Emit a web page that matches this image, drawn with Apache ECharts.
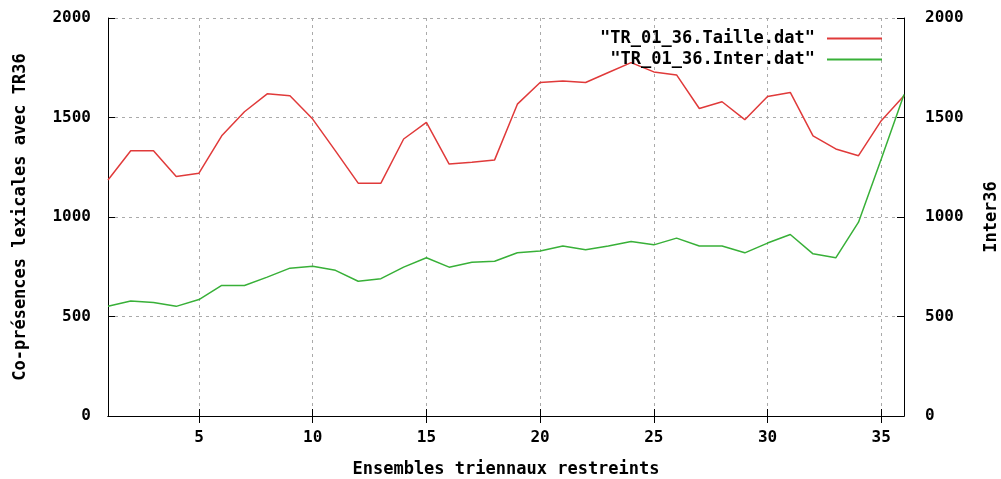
<!DOCTYPE html>
<html>
<head>
<meta charset="utf-8">
<script src="https://cdn.jsdelivr.net/npm/echarts@6/dist/echarts.min.js"></script>
<style>
  html, body { margin: 0; padding: 0; background: #ffffff; }
  #chart { width: 1001px; height: 479px; }
</style>
</head>
<body>
<div id="chart"></div>
<script>
  // ensembles triennaux 1..36
  var ensembles = ['1','2','3','4','5','6','7','8','9','10','11','12','13','14','15','16','17','18',
    '19','20','21','22','23','24','25','26','27','28','29','30','31','32','33','34','35','36'];
  var taille = [1186, 1333, 1333, 1203, 1220, 1408, 1529, 1619, 1609, 1492, 1332, 1170, 1170, 1392, 1475, 1266, 1275, 1287,
    1567, 1676, 1684, 1676, 1726, 1776, 1729, 1714, 1545, 1579, 1489, 1606, 1626, 1408, 1342, 1308, 1484, 1609];
  var inter = [551, 578, 570, 551, 585, 656, 656, 698, 743, 753, 732, 677, 690, 748, 795, 748, 773, 778,
    820, 829, 854, 835, 854, 877, 860, 894, 854, 854, 820, 869, 912, 815, 795, 974, 1292, 1615];
  var nomTaille = '"TR_01_36.Taille.dat"';
  var nomInter = '"TR_01_36.Inter.dat"';

  var police = 'DejaVu Sans Mono';
  var texte = { fontFamily: police, fontWeight: 'bold', fontSize: 16, color: '#000' };
  var titre = { fontFamily: police, fontWeight: 'bold', fontSize: 17, color: '#000' };
  var tousLes5 = function (idx, val) { return Number(val) % 5 === 0; };
  var brut = function (v) { return String(v); };

  var chart = echarts.init(document.getElementById('chart'));
  chart.setOption({
    animation: false,
    backgroundColor: '#ffffff',
    grid: { left: 108, right: 97, top: 18, bottom: 63, outerBoundsMode: 'none', containLabel: false },
    legend: [
      {
        data: [nomTaille], right: 114, top: 25, align: 'right',
        icon: 'rect', itemWidth: 55, itemHeight: 2,
        textStyle: Object.assign({ padding: [0, 7, 0, 0] }, titre)
      },
      {
        data: [nomInter], right: 114, top: 46, align: 'right',
        icon: 'rect', itemWidth: 55, itemHeight: 2,
        textStyle: Object.assign({ padding: [0, 7, 0, 0] }, titre)
      }
    ],
    xAxis: [
      {
        type: 'category', data: ensembles, boundaryGap: false,
        name: 'Ensembles triennaux restreints', nameLocation: 'middle', nameGap: 45,
        nameTextStyle: titre,
        axisLine: { lineStyle: { color: '#000', width: 1 } },
        axisTick: { inside: true, length: 7, interval: tousLes5, lineStyle: { color: '#000' } },
        axisLabel: Object.assign({ margin: 14, interval: tousLes5 }, texte),
        splitLine: { show: true, interval: tousLes5, lineStyle: { color: '#aaa', type: [3, 4] } }
      },
      {
        type: 'category', data: ensembles, boundaryGap: false, position: 'top',
        axisLine: { lineStyle: { color: '#000', width: 1 } },
        axisTick: { inside: true, length: 7, interval: tousLes5, lineStyle: { color: '#000' } },
        axisLabel: { show: false },
        splitLine: { show: false }
      }
    ],
    yAxis: [
      {
        type: 'value', min: 0, max: 2000, interval: 500, position: 'left',
        name: 'Co-présences lexicales avec TR36', nameLocation: 'middle', nameGap: 79,
        nameRotate: 90, nameTextStyle: titre,
        axisLine: { show: true, lineStyle: { color: '#000', width: 1 } },
        axisTick: { show: true, inside: true, length: 7, lineStyle: { color: '#000' } },
        axisLabel: Object.assign({ margin: 17, formatter: brut }, texte),
        splitLine: { show: true, lineStyle: { color: '#aaa', type: [3, 4] } }
      },
      {
        type: 'value', min: 0, max: 2000, interval: 500, position: 'right',
        name: 'Inter36', nameLocation: 'middle', nameGap: 79,
        nameRotate: 90, nameTextStyle: titre,
        axisLine: { show: true, lineStyle: { color: '#000', width: 1 } },
        axisTick: { show: true, inside: true, length: 7, lineStyle: { color: '#000' } },
        axisLabel: Object.assign({ margin: 21, formatter: brut }, texte),
        splitLine: { show: false }
      }
    ],
    series: [
      {
        name: nomTaille, type: 'line', data: taille, yAxisIndex: 0,
        symbol: 'none', color: '#e03a3a',
        lineStyle: { width: 1.5, color: '#e03a3a' }
      },
      {
        name: nomInter, type: 'line', data: inter, yAxisIndex: 1,
        symbol: 'none', color: '#38b038',
        lineStyle: { width: 1.5, color: '#38b038' }
      }
    ]
  });
</script>
</body>
</html>
